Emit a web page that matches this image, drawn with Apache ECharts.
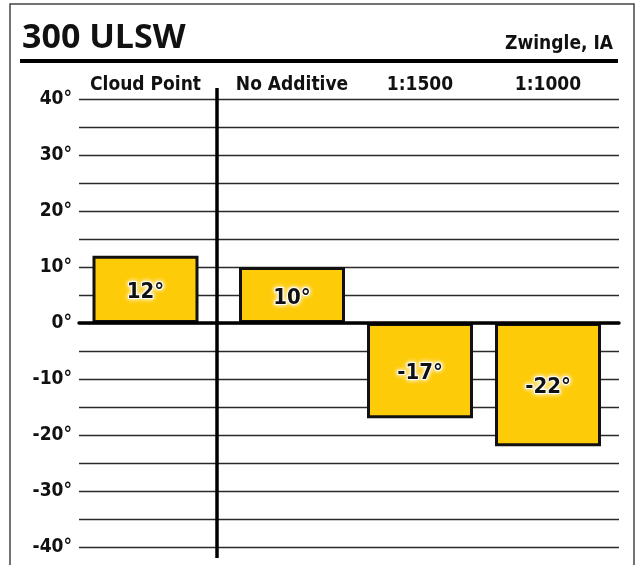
<!DOCTYPE html>
<html>
<head>
<meta charset="utf-8">
<script src="https://cdn.jsdelivr.net/npm/echarts@6/dist/echarts.min.js"></script>
<style>
html,body{margin:0;padding:0;background:#fff;}
#c{width:636px;height:565px;}
</style>
</head>
<body>
<div id="c"></div>
<script>
const titleText = '300 ULSW';
const locationText = 'Zwingle, IA';
const categories = ['Cloud Point', 'No Additive', '1:1500', '1:1000'];
const values = [12, 10, -17, -22];
const yMin = -40, yMax = 40, yStep = 5;

const NARROW = '"Liberation Sans Narrow", "DejaVu Sans Condensed", sans-serif';
const chart = echarts.init(document.getElementById('c'), null, {renderer: 'canvas'});

const yBase = {
  type: 'value', min: yMin, max: yMax, interval: yStep
};
const barStyle = {color: '#FDCB08', borderColor: '#111', borderWidth: 3};
const barLabel = {
  show: true, position: 'inside', formatter: p => p.value + '°',
  fontFamily: NARROW, fontWeight: 'bold', fontSize: 22, color: '#111',
  textBorderColor: '#fff', textBorderWidth: 2, textShadowColor: '#fff', textShadowBlur: 5,
  offset: [0, 3]
};
const catLabel = {fontFamily: NARROW, fontWeight: 'bold', fontSize: 19, color: '#111', margin: 4, interval: 0};

chart.setOption({
  animation: false,
  backgroundColor: '#fff',
  grid: [
    {left: 79, right: 17, top: 99, bottom: 18},
    {left: 79, width: 133, top: 99, bottom: 18},
    {left: 228, right: 24, top: 99, bottom: 18}
  ],
  xAxis: [
    {gridIndex: 0, type: 'category', data: [''], axisTick: {show: false}, axisLabel: {show: false},
     axisLine: {show: true, onZero: true, lineStyle: {color: '#000', width: 3.5}}, z: 5},
    {gridIndex: 1, type: 'category', position: 'top', data: categories.slice(0, 1),
     axisLine: {show: false}, axisTick: {show: false}, axisLabel: catLabel},
    {gridIndex: 2, type: 'category', position: 'top', data: categories.slice(1),
     axisLine: {show: false}, axisTick: {show: false}, axisLabel: catLabel}
  ],
  yAxis: [
    Object.assign({gridIndex: 0, axisLine: {show: false}, axisTick: {show: false},
      splitLine: {show: true, lineStyle: {color: '#2a2a2a', width: 1.3}},
      axisLabel: {showMinLabel: true, showMaxLabel: true, margin: 7,
        fontFamily: NARROW, fontWeight: 'bold', fontSize: 19, color: '#111',
        formatter: v => (v % 10 === 0 ? v + '°' : '')}}, yBase),
    Object.assign({gridIndex: 1, show: false, splitLine: {show: false}}, yBase),
    Object.assign({gridIndex: 2, show: false, splitLine: {show: false}}, yBase)
  ],
  series: [
    {type: 'bar', xAxisIndex: 1, yAxisIndex: 1, data: values.slice(0, 1), barWidth: 106,
     itemStyle: barStyle, label: barLabel, z: 3},
    {type: 'bar', xAxisIndex: 2, yAxisIndex: 2, data: values.slice(1), barWidth: 106,
     itemStyle: barStyle, label: barLabel, z: 3}
  ],
  graphic: [
    {type: 'rect', shape: {x: 10, y: 4, width: 624, height: 600}, style: {fill: 'none', stroke: '#444', lineWidth: 1.5}, z: 10},
    {type: 'line', shape: {x1: 20, y1: 61, x2: 618, y2: 61}, style: {stroke: '#000', lineWidth: 4}, z: 10},
    {type: 'line', shape: {x1: 217, y1: 88, x2: 217, y2: 558}, style: {stroke: '#000', lineWidth: 3.5}, z: 10},
    {type: 'text', x: 22, y: 55, style: {text: titleText, fontFamily: '"Open Sans", sans-serif', fontWeight: 'bold', fontSize: 34, fill: '#111', textAlign: 'left', textVerticalAlign: 'bottom'}, z: 10},
    {type: 'text', x: 613, y: 54, style: {text: locationText, fontFamily: NARROW, fontWeight: 'bold', fontSize: 19, fill: '#111', textAlign: 'right', textVerticalAlign: 'bottom'}, z: 10}
  ]
});
</script>
</body>
</html>
